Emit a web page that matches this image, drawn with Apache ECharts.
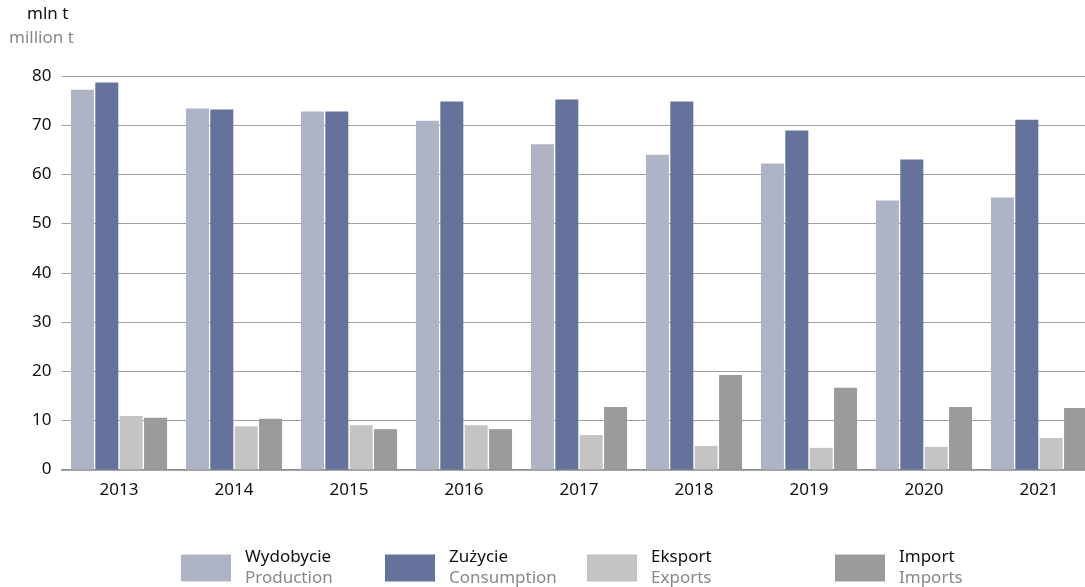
<!DOCTYPE html>
<html>
<head>
<meta charset="utf-8">
<script src="https://cdn.jsdelivr.net/npm/echarts@6/dist/echarts.min.js"></script>
<style>html,body{margin:0;padding:0;background:#fff}#c{width:1085px;height:587px}</style>
</head>
<body>
<div id="c"></div>
<script>
const years = ['2013','2014','2015','2016','2017','2018','2019','2020','2021'];
const production = [77.2, 73.4, 72.8, 70.9, 66.1, 64.0, 62.2, 54.7, 55.3];
const consumption = [78.7, 73.2, 72.8, 74.8, 75.2, 74.8, 68.9, 63.0, 71.1];
const exportsData = [10.9, 8.8, 9.0, 9.0, 7.0, 4.8, 4.4, 4.6, 6.4];
const importsData = [10.5, 10.3, 8.2, 8.2, 12.7, 19.2, 16.6, 12.7, 12.5];
const seriesNamesPl = ['Wydobycie', 'Zużycie', 'Eksport', 'Import'];
const seriesNamesEn = ['Production', 'Consumption', 'Exports', 'Imports'];
const unitPl = 'mln t';
const unitEn = 'million t';

const colors = ['#aeb3c6', '#65729c', '#c4c4c4', '#9b9b9b'];
const FONT = 'Noto Sans';
const values = [production, consumption, exportsData, importsData];
const enMap = {};
seriesNamesPl.forEach((n, i) => enMap[n] = seriesNamesEn[i]);

const legendLefts = [181, 385, 587, 835];
const chart = echarts.init(document.getElementById('c'));
chart.setOption({
  animation: false,
  color: colors,
  grid: { left: 61.5, width: 1035, top: 76, bottom: 117.5, containLabel: false, outerBoundsMode: 'none' },
  graphic: [
    { type: 'text', left: 27, top: 6, style: { text: unitPl, fontFamily: FONT, fontSize: 17, fill: '#111' } },
    { type: 'text', left: 9, top: 30, style: { text: unitEn, fontFamily: FONT, fontSize: 17, fill: '#888' } }
  ],
  legend: seriesNamesPl.map((n, i) => ({
    data: [n],
    left: legendLefts[i],
    top: 549,
    padding: 0,
    itemWidth: 50,
    itemHeight: 27,
    icon: 'rect',
    selectedMode: false,
    formatter: name => '{a|' + name + '}\n{b|' + enMap[name] + '}',
    textStyle: {
      padding: [0, 0, 0, 9],
      rich: {
        a: { fontFamily: FONT, fontSize: 17, color: '#111', lineHeight: 21 },
        b: { fontFamily: FONT, fontSize: 17, color: '#888', lineHeight: 21 }
      }
    }
  })),
  xAxis: {
    type: 'category',
    data: years,
    axisLine: { lineStyle: { color: '#888', width: 1.5 } },
    axisTick: { show: false },
    axisLabel: { fontFamily: FONT, fontSize: 17, color: '#111', margin: 12 }
  },
  yAxis: {
    type: 'value',
    min: 0, max: 80, interval: 10,
    axisLine: { show: false },
    axisTick: { show: false },
    splitLine: { lineStyle: { color: '#a0a0a0', width: 1 } },
    axisLabel: { fontFamily: FONT, fontSize: 17, color: '#111', margin: 10 }
  },
  series: seriesNamesPl.map((n, i) => ({
    name: n,
    type: 'bar',
    data: values[i],
    barWidth: 23,
    barGap: '6%',
    itemStyle: { color: colors[i] }
  }))
});
</script>
</body>
</html>
